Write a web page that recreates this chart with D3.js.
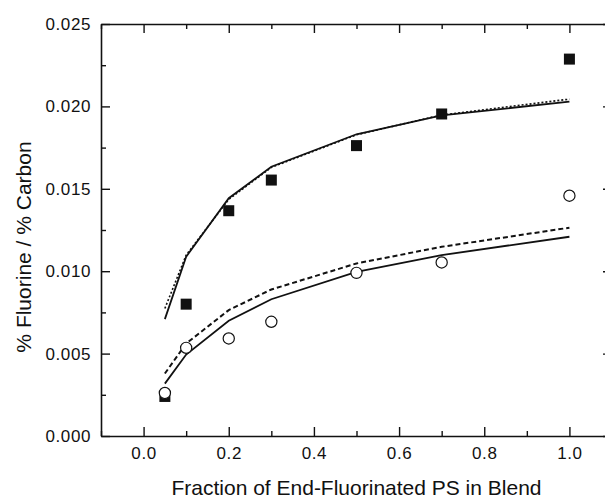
<!DOCTYPE html>
<html><head><meta charset="utf-8">
<script src="https://cdn.jsdelivr.net/npm/d3@7"></script>
<style>
html,body{margin:0;padding:0;background:#fff;}
svg{display:block;}
.tick text{font-family:"Liberation Sans",Arial,sans-serif;}
</style></head>
<body><svg id="c" width="605" height="500"></svg>
<script>
const xFrac = [0.05, 0.1, 0.2, 0.3, 0.5, 0.7, 1.0];
const squaresY = [0.0024, 0.0080, 0.01367, 0.01553, 0.01762, 0.01954, 0.02287];
const circlesY = [0.00261, 0.00535, 0.00592, 0.00693, 0.00990, 0.01053, 0.01458];
const topSolid = [0.00709, 0.01088, 0.01443, 0.01634, 0.01831, 0.01945, 0.02029];
const topDashed = [0.00774, 0.01098, 0.01436, 0.01630, 0.01828, 0.01948, 0.02044];
const botSolid = [0.00318, 0.00494, 0.00699, 0.00830, 0.00996, 0.01098, 0.01209];
const botDashed = [0.00379, 0.00561, 0.00764, 0.00889, 0.01047, 0.01148, 0.01264];
const xMajor = [0.0, 0.2, 0.4, 0.6, 0.8, 1.0];
const xMinor = [-0.1, 0.1, 0.3, 0.5, 0.7, 0.9, 1.1];
const yMajor = [0.000, 0.005, 0.010, 0.015, 0.020, 0.025];
const yMinor = [0.0025, 0.0075, 0.0125, 0.0175, 0.0225];
const xTitle = "Fraction of End-Fluorinated PS in Blend";
const yTitle = "% Fluorine / % Carbon";

const svg = d3.select("#c");
const L = 101, R = 612, T = 24, B = 436;
const x = d3.scaleLinear().domain([-0.1, 1.1]).range([L, R]);
const y = d3.scaleLinear().domain([0, 0.025]).range([B, T]);
const ink = "#111";

function styleAxis(g, fs){
  g.select(".domain").attr("stroke", ink).attr("stroke-width", 1.6);
  g.selectAll(".tick line").attr("stroke", ink).attr("stroke-width", 1.4);
  g.selectAll(".tick text").attr("fill", ink).style("font-size", fs+"px").style("letter-spacing","0.6px");
}
// bottom
const gB = svg.append("g").attr("transform",`translate(0,${B})`)
  .call(d3.axisBottom(x).tickValues(xMajor).tickSizeInner(-9).tickSizeOuter(0).tickPadding(11).tickFormat(d3.format(".1f")));
styleAxis(gB, 17);
const gBm = svg.append("g").attr("transform",`translate(0,${B})`)
  .call(d3.axisBottom(x).tickValues(xMinor).tickSizeInner(-5).tickSizeOuter(0).tickFormat(""));
styleAxis(gBm, 17); gBm.select(".domain").remove();
// top
const gT = svg.append("g").attr("transform",`translate(0,${T})`)
  .call(d3.axisTop(x).tickValues(xMajor).tickSizeInner(-9).tickSizeOuter(0).tickFormat(""));
styleAxis(gT, 17);
const gTm = svg.append("g").attr("transform",`translate(0,${T})`)
  .call(d3.axisTop(x).tickValues(xMinor).tickSizeInner(-5).tickSizeOuter(0).tickFormat(""));
styleAxis(gTm, 17); gTm.select(".domain").remove();
// left
const gL = svg.append("g").attr("transform",`translate(${L},0)`)
  .call(d3.axisLeft(y).tickValues(yMajor).tickSizeInner(-9).tickSizeOuter(0).tickPadding(10).tickFormat(d3.format(".3f")));
styleAxis(gL, 17);
const gLm = svg.append("g").attr("transform",`translate(${L},0)`)
  .call(d3.axisLeft(y).tickValues(yMinor).tickSizeInner(-5).tickSizeOuter(0).tickFormat(""));
styleAxis(gLm, 17); gLm.select(".domain").remove();
// right
const gR = svg.append("g").attr("transform",`translate(${R},0)`)
  .call(d3.axisRight(y).tickValues(yMajor).tickSizeInner(-9).tickSizeOuter(0).tickFormat(""));
styleAxis(gR, 17);
const gRm = svg.append("g").attr("transform",`translate(${R},0)`)
  .call(d3.axisRight(y).tickValues(yMinor).tickSizeInner(-5).tickSizeOuter(0).tickFormat(""));
styleAxis(gRm, 17); gRm.select(".domain").remove();

// titles
svg.append("text").attr("x", (L+R)/2).attr("y", 495).attr("text-anchor","middle")
  .attr("font-family","Liberation Sans, Arial, sans-serif").attr("font-size",21).attr("fill",ink).text(xTitle);
svg.append("text").attr("transform",`translate(31,247) rotate(-90)`).attr("text-anchor","middle")
  .attr("font-family","Liberation Sans, Arial, sans-serif").attr("font-size",21).attr("fill",ink).text(yTitle);

// lines
const line = d3.line().x((d,i)=>x(xFrac[i])).y(d=>y(d));
function drawLine(vals, dash, w){
  svg.append("path").datum(vals).attr("d", line).attr("fill","none")
    .attr("stroke", ink).attr("stroke-width", w).attr("stroke-dasharray", dash);
}
drawLine(topDashed, "2,2", 1.6);
drawLine(topSolid, null, 1.8);
drawLine(botDashed, "5,3", 2);
drawLine(botSolid, null, 1.8);

// markers
const s = 11;
svg.append("g").selectAll("rect").data(squaresY).join("rect")
  .attr("x",(d,i)=>x(xFrac[i])-s/2).attr("y",d=>y(d)-s/2).attr("width",s).attr("height",s).attr("fill",ink);
svg.append("g").selectAll("circle").data(circlesY).join("circle")
  .attr("cx",(d,i)=>x(xFrac[i])).attr("cy",d=>y(d)).attr("r",5.6)
  .attr("fill","#fff").attr("stroke",ink).attr("stroke-width",1.2);
</script></body></html>
